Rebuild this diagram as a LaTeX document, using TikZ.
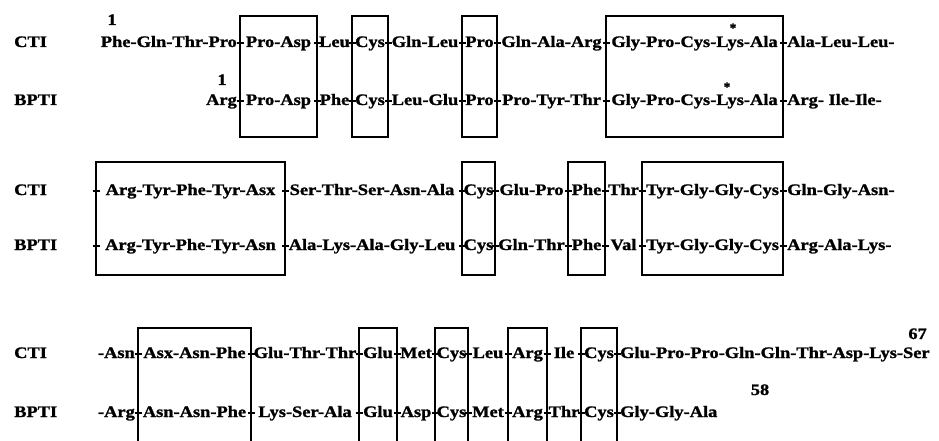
\documentclass[tikz,border=0pt]{standalone}
\usepackage{fontspec}
\setmainfont{Liberation Serif}
\newfontfamily\heavyfont{Liberation Serif Bold}[FakeBold=1.2]
\usepackage{graphicx}
\newcommand{\aawide}[1]{\scalebox{1.15}[1]{#1}}
\begin{document}
\begin{tikzpicture}[x=1pt,y=-1pt,
  seg/.style={inner sep=0pt, font=\heavyfont\fontsize{16}{18}\selectfont},
  mid/.style={seg, anchor=base},
  lft/.style={seg, anchor=base west},
  rgt/.style={seg, anchor=base east},
  star/.style={inner sep=0pt, anchor=center, font=\heavyfont\fontsize{13}{13}\selectfont},
  boxline/.style={line width=1.6pt, line join=miter},
  tickline/.style={line width=1.1pt}]
\useasboundingbox (0,0) rectangle (939,441);

% ---------------- labels ----------------
\node[lft] (l1) at (14,47) {\aawide{CTI}};
\node[lft] (l2) at (14,105) {\aawide{BPTI}};
\node[lft] (l3) at (14,195) {\aawide{CTI}};
\node[lft] (l4) at (14,250) {\aawide{BPTI}};
\node[lft] (l5) at (14,358) {\aawide{CTI}};
\node[lft] (l6) at (14,417) {\aawide{BPTI}};

% ---------------- block 1 ----------------
\draw[boxline] (240,16) rectangle (317,137);
\draw[boxline] (352,16) rectangle (388,137);
\draw[boxline] (462,16) rectangle (497,137);
\draw[boxline] (606,16) rectangle (783,137);
\foreach \x in {240,317,352,388,462,497,606,783}
  \foreach \y in {43,101}
    \draw[tickline] (\x-3.5,\y) -- (\x+3.5,\y);

\node[mid] (n1c) at (112,25) {\aawide{1}};
\node[mid] (n1b) at (222,85) {\aawide{1}};
\node[star] (s1c) at (733,28) {*};
\node[star] (s1b) at (727,87) {*};

\node[rgt] (a1) at (237,47) {\aawide{Phe-Gln-Thr-Pro}};
\node[mid] (a2) at (278.5,47) {\aawide{Pro-Asp}};
\node[mid] (a3) at (334.5,47) {\aawide{Leu}};
\node[mid] (a4) at (370,47) {\aawide{Cys}};
\node[mid] (a5) at (425,47) {\aawide{Gln-Leu}};
\node[mid] (a6) at (479.5,47) {\aawide{Pro}};
\node[mid] (a7) at (551.5,47) {\aawide{Gln-Ala-Arg}};
\node[mid] (a8) at (694.5,47) {\aawide{Gly-Pro-Cys-Lys-Ala}};
\node[lft] (a9) at (787,47) {\aawide{Ala-Leu-Leu-}};

\node[rgt] (b1) at (237,105) {\aawide{Arg}};
\node[mid] (b2) at (278.5,105) {\aawide{Pro-Asp}};
\node[mid] (b3) at (334.5,105) {\aawide{Phe}};
\node[mid] (b4) at (370,105) {\aawide{Cys}};
\node[mid] (b5) at (425,105) {\aawide{Leu-Glu}};
\node[mid] (b6) at (479.5,105) {\aawide{Pro}};
\node[mid] (b7) at (551.5,105) {\aawide{Pro-Tyr-Thr}};
\node[mid] (b8) at (694.5,105) {\aawide{Gly-Pro-Cys-Lys-Ala}};
\node[lft] (b9) at (787,105) {\aawide{Arg- Ile-Ile-}};

% ---------------- block 2 ----------------
\draw[boxline] (96,162) rectangle (285,275);
\draw[boxline] (462,162) rectangle (495,275);
\draw[boxline] (568,162) rectangle (605,275);
\draw[boxline] (642,162) rectangle (783,275);
\foreach \x in {96,285,462,495,568,605,642,783}
  \foreach \y in {191,246}
    \draw[tickline] (\x-3.5,\y) -- (\x+3.5,\y);

\node[mid] (c1) at (190.5,195) {\aawide{Arg-Tyr-Phe-Tyr-Asx}};
\node[mid] (c2) at (372,195) {\aawide{Ser-Thr-Ser-Asn-Ala}};
\node[mid] (c3) at (478.5,195) {\aawide{Cys}};
\node[mid] (c4) at (531.5,195) {\aawide{Glu-Pro}};
\node[mid] (c5) at (586.5,195) {\aawide{Phe}};
\node[mid] (c6) at (623.5,195) {\aawide{Thr}};
\node[mid] (c7) at (712.5,195) {\aawide{Tyr-Gly-Gly-Cys}};
\node[lft] (c8) at (787,195) {\aawide{Gln-Gly-Asn-}};

\node[mid] (d1) at (190.5,250) {\aawide{Arg-Tyr-Phe-Tyr-Asn}};
\node[mid] (d2) at (372,250) {\aawide{Ala-Lys-Ala-Gly-Leu}};
\node[mid] (d3) at (478.5,250) {\aawide{Cys}};
\node[mid] (d4) at (531.5,250) {\aawide{Gln-Thr}};
\node[mid] (d5) at (586.5,250) {\aawide{Phe}};
\node[mid] (d6) at (623.5,250) {\aawide{Val}};
\node[mid] (d7) at (712.5,250) {\aawide{Tyr-Gly-Gly-Cys}};
\node[lft] (d8) at (787,250) {\aawide{Arg-Ala-Lys-}};

% ---------------- block 3 ----------------
\foreach \xa/\xb in {138/251,359/397,435/468,508/547,581/617}
  \draw[boxline] (\xa,442) -- (\xa,328) -- (\xb,328) -- (\xb,442);
\foreach \x in {138,251,359,397,435,468,508,547,581,617}
  \foreach \y in {354,413}
    \draw[tickline] (\x-3.5,\y) -- (\x+3.5,\y);

\node[rgt] (e1) at (135,358) {\aawide{-Asn}};
\node[mid] (e2) at (194.5,358) {\aawide{Asx-Asn-Phe}};
\node[mid] (e3) at (305,358) {\aawide{Glu-Thr-Thr}};
\node[mid] (e4) at (378,358) {\aawide{Glu}};
\node[mid] (e5) at (416,358) {\aawide{Met}};
\node[mid] (e6) at (451.5,358) {\aawide{Cys}};
\node[mid] (e7) at (488,358) {\aawide{Leu}};
\node[mid] (e8) at (527.5,358) {\aawide{Arg}};
\node[mid] (e9) at (564,358) {\aawide{Ile}};
\node[mid] (e10) at (599,358) {\aawide{Cys}};
\node[lft] (e11) at (620,358) {\aawide{Glu-Pro-Pro-Gln-Gln-Thr-Asp-Lys-Ser}};
\node[rgt] (n67) at (927,339) {\aawide{67}};

\node[rgt] (f1) at (135,417) {\aawide{-Arg}};
\node[mid] (f2) at (194.5,417) {\aawide{Asn-Asn-Phe}};
\node[mid] (f3) at (305,417) {\aawide{Lys-Ser-Ala}};
\node[mid] (f4) at (378,417) {\aawide{Glu}};
\node[mid] (f5) at (416,417) {\aawide{Asp}};
\node[mid] (f6) at (451.5,417) {\aawide{Cys}};
\node[mid] (f7) at (488,417) {\aawide{Met}};
\node[mid] (f8) at (527.5,417) {\aawide{Arg}};
\node[mid] (f9) at (564,417) {\aawide{Thr}};
\node[mid] (f10) at (599,417) {\aawide{Cys}};
\node[lft] (f11) at (620,417) {\aawide{Gly-Gly-Ala}};
\node[mid] (n58) at (760,395) {\aawide{58}};
\end{tikzpicture}
\end{document}
